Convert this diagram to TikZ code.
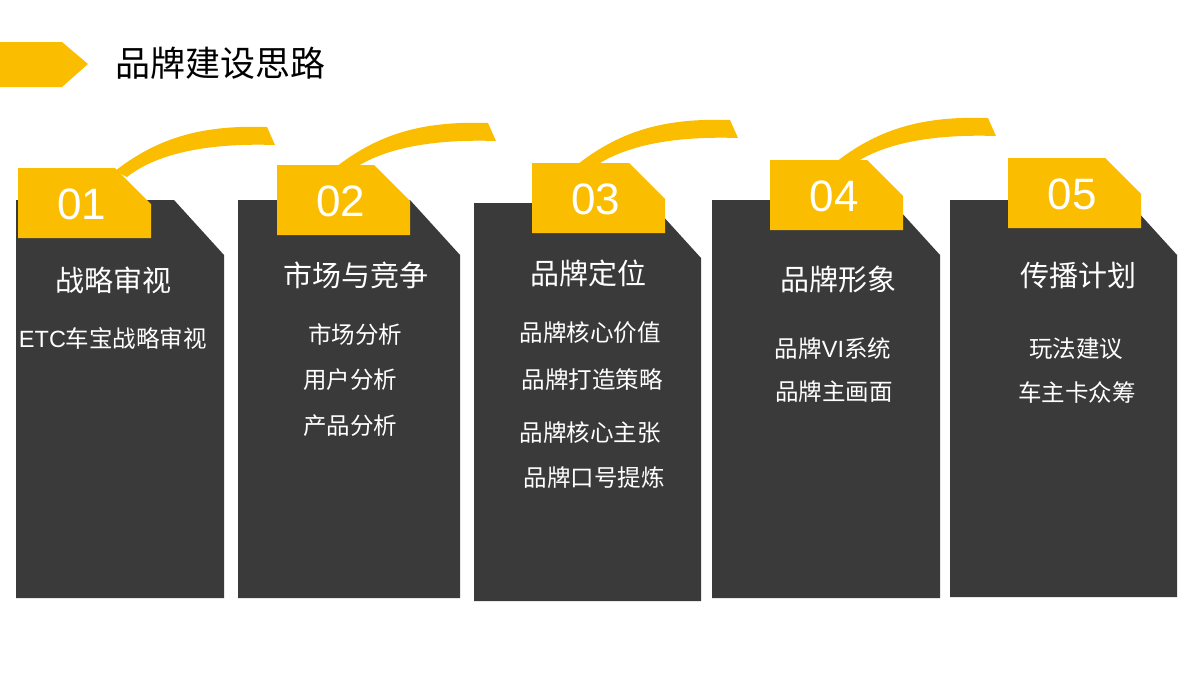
\documentclass[tikz,border=0pt]{standalone}
\usepackage{fontspec}
\setmainfont{Liberation Sans}
\newfontfamily\cjk{Noto Sans CJK SC}
\definecolor{ylw}{HTML}{FBBD00}
\definecolor{drk}{HTML}{3A3A3A}
\begin{document}
\begin{tikzpicture}[x=1pt,y=-1pt,
  hd/.style={text=white,font=\cjk\fontsize{29}{32}\selectfont},
  it/.style={text=white,font=\cjk\fontsize{23.5}{27}\selectfont},
  num/.style={text=white,font=\fontsize{44}{48}\selectfont}]
\useasboundingbox (0,0) rectangle (1200,675);
\fill[white] (0,0) rectangle (1200,675);
\fill[ylw] (0,42)--(62,42)--(88,64)--(62,87)--(0,87)--cycle;
\node[anchor=west,font=\cjk\fontsize{35}{38}\selectfont] (title) at (112,63) {品牌建设思路};
\newcommand\card[7]{%
  \fill[drk] (#1,#3)--(#2-50,#3)--(#2,#3+55)--(#2,#4)--(#1,#4)--cycle;
  \fill[ylw] (#5,#6)--(#5+97,#6)--(#5+133,#6+36)--(#5+133,#6+70)--(#5,#6+70)--cycle;
  \node[num] (n#7) at (#5+64,#6+36) {0#7};}
\card{16}{224}{200}{598}{18}{168}{1}
\card{238}{460}{200}{598}{277}{165}{2}
\card{474}{701}{203}{601}{532}{163}{3}
\card{712}{940}{200}{598}{770}{160}{4}
\card{950}{1177}{200}{597}{1008}{158}{5}
\newcommand\arcband[2]{%
  \begin{scope}[shift={(#1,#2)}]
  \fill[ylw] (0,0) .. controls (45,-35) and (90,-46) .. (152,-44) -- (160,-26)
   .. controls (100,-28) and (45,-20) .. (12,6) -- cycle;
  \end{scope}}
\arcband{115}{171}
\arcband{336}{167}
\arcband{578}{164}
\arcband{836}{162}
\node[hd] (h1) at (113,280) {战略审视};
\node[it] (a1) at (113,338) {\fontspec{Liberation Sans}ETC\cjk 车宝战略审视};
\node[hd] (h2) at (356,275) {市场与竞争};
\node[it] (b1) at (355,335) {市场分析};
\node[it] (b2) at (350,380) {用户分析};
\node[it] (b3) at (350,426) {产品分析};
\node[hd] (h3) at (588,273) {品牌定位};
\node[it] (c1) at (590,333) {品牌核心价值};
\node[it] (c2) at (592,380) {品牌打造策略};
\node[it] (c3) at (590,433) {品牌核心主张};
\node[it] (c4) at (594,478) {品牌口号提炼};
\node[hd] (h4) at (838,280) {品牌形象};
\node[it] (d1) at (833,349) {品牌\fontspec{Liberation Sans}VI\cjk 系统};
\node[it] (d2) at (834,392) {品牌主画面};
\node[hd] (h5) at (1078,276) {传播计划};
\node[it] (e1) at (1076,349) {玩法建议};
\node[it] (e2) at (1077,392) {车主卡众筹};
\end{tikzpicture}
\end{document}
